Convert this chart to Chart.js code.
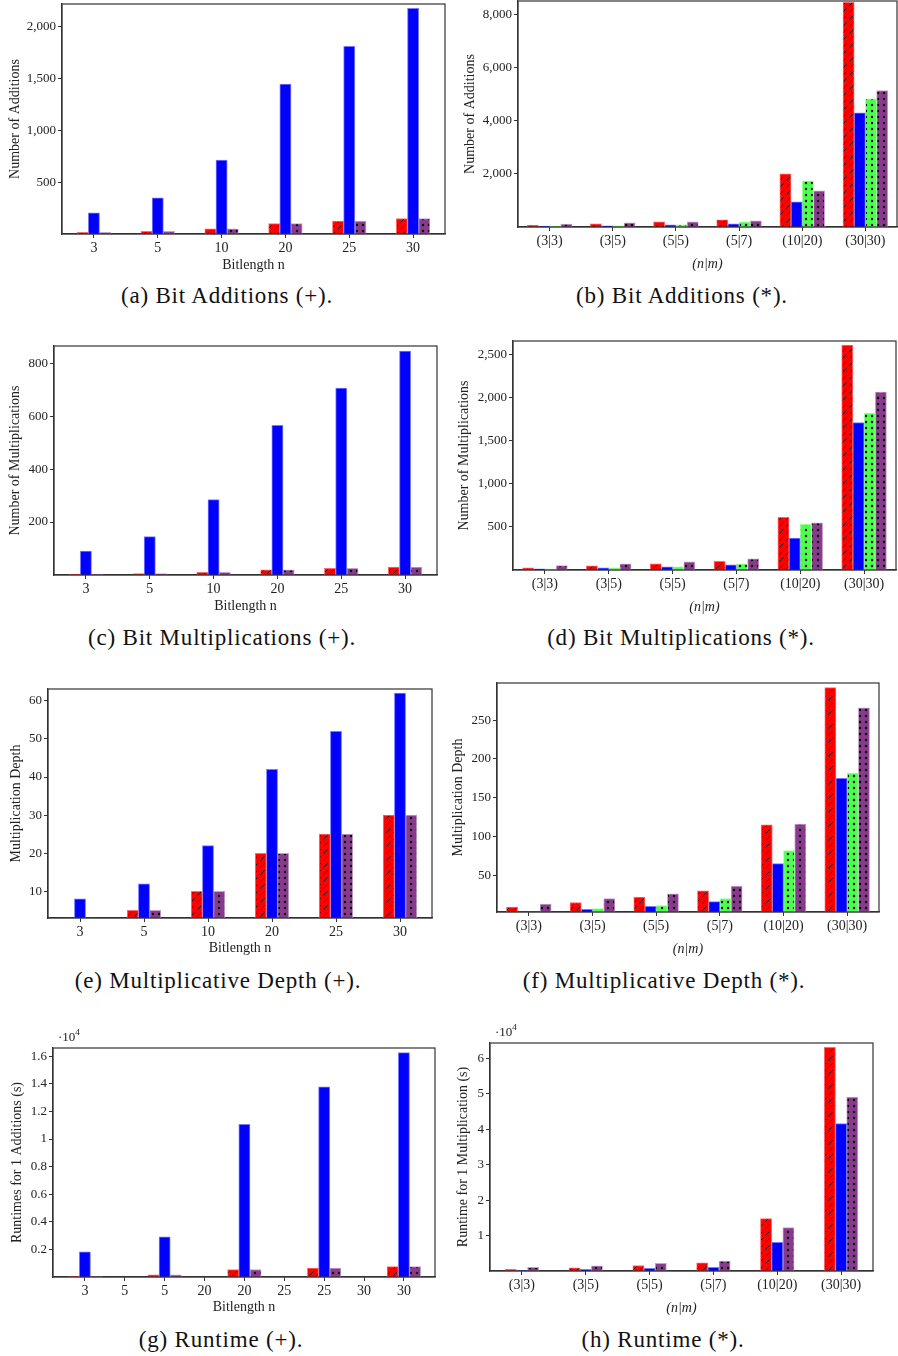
<!DOCTYPE html>
<html>
<head>
<meta charset="utf-8">
<script src="https://cdn.jsdelivr.net/npm/chart.js@4.4.1/dist/chart.umd.min.js"></script>
<style>
  body { margin: 0; background: #fff; width: 898px; height: 1356px; position: relative; overflow: hidden;
         font-family: "Liberation Serif", serif; color: #111; }
  .cap { position: absolute; transform: translate(-50%, -50%); font-size: 23px; white-space: nowrap; letter-spacing: 0.8px; }
</style>
</head>
<body>
<div class="cap" style="left:227px;top:296px">(a) Bit Additions (+).</div>
<div class="cap" style="left:682px;top:296px">(b) Bit Additions (*).</div>
<div class="cap" style="left:222px;top:638px">(c) Bit Multiplications (+).</div>
<div class="cap" style="left:681px;top:638px">(d) Bit Multiplications (*).</div>
<div class="cap" style="left:218px;top:981px">(e) Multiplicative Depth (+).</div>
<div class="cap" style="left:664px;top:981px">(f) Multiplicative Depth (*).</div>
<div class="cap" style="left:221px;top:1340px">(g) Runtime (+).</div>
<div class="cap" style="left:663px;top:1340px">(h) Runtime (*).</div>
<script>
// categories
const nLabels = ['3', '5', '10', '20', '25', '30'];
const nmLabels = ['(3|3)', '(3|5)', '(5|5)', '(5|7)', '(10|20)', '(30|30)'];
const rtAddLabels = ['3', '5', '20', '25', '30'];

// (a) bit additions (+)
const addPlusRed = [15, 25, 50, 100, 125, 150];
const addPlusBlue = [204, 349, 714, 1446, 1812, 2178];
const addPlusPurple = [15, 25, 50, 100, 125, 150];

// (b) bit additions (*)
const addStarRed = [70, 120, 195, 270, 2000, 8450];
const addStarBlue = [30, 45, 83, 120, 947, 4290];
const addStarGreen = [40, 45, 83, 195, 1736, 4816];
const addStarPurple = [108, 158, 195, 233, 1360, 5128];

// (c) bit multiplications (+)
const mulPlusRed = [3, 5, 10, 20, 25, 30];
const mulPlusBlue = [90, 145, 285, 565, 706, 846];
const mulPlusPurple = [3, 5, 10, 20, 25, 30];

// (d) bit multiplications (*)
const mulStarRed = [24, 48, 71, 102, 612, 2612];
const mulStarBlue = [13, 24, 36, 59, 372, 1711];
const mulStarGreen = [13, 24, 36, 71, 531, 1823];
const mulStarPurple = [51, 71, 94, 129, 547, 2067];

// (e) multiplicative depth (+)
const depthPlusRed = [3, 5, 10, 20, 25, 30];
const depthPlusBlue = [8, 12, 22, 42, 52, 62];
const depthPlusPurple = [3, 5, 10, 20, 25, 30];

// (f) multiplicative depth (*)
const depthStarRed = [9, 15, 22, 30, 115, 292];
const depthStarBlue = [3, 6, 10, 16, 65, 175];
const depthStarGreen = [3, 7, 11, 20, 82, 182];
const depthStarPurple = [13, 20, 26, 36, 116, 266];

// (g) runtime (+), seconds
const rtAddRed = [50, 150, 530, 650, 750];
const rtAddBlue = [1830, 2910, 11060, 13780, 16260];
const rtAddPurple = [50, 150, 530, 650, 750];

// (h) runtime (*), seconds
const rtMulRed = [440, 900, 1560, 2310, 14770, 63070];
const rtMulBlue = [160, 440, 720, 1000, 8120, 41550];
const rtMulPurple = [1000, 1470, 2130, 2780, 12240, 49040];

Chart.defaults.font.family = '"Liberation Serif", serif';
Chart.defaults.color = '#222';

function tile(color, size, draw) {
  const c = document.createElement('canvas');
  c.width = size; c.height = size;
  const g = c.getContext('2d');
  g.fillStyle = color; g.fillRect(0, 0, size, size);
  g.fillStyle = '#000'; g.strokeStyle = '#000';
  draw(g);
  return g.createPattern(c, 'repeat');
}
// short slashes per tile -> dashed north-east lines like the pgf pattern
const hatch = g => {
  g.lineWidth = 0.9;
  g.beginPath();
  g.moveTo(1.5, 5.5); g.lineTo(5.5, 1.5);
  g.stroke();
};
const dots = g => { g.beginPath(); g.arc(3, 3, 1.2, 0, Math.PI * 2); g.fill(); };

const STYLE = {
  red: { bg: tile('#ff0000', 7, hatch), border: '#ff6a6a' },
  blue: { bg: '#0000ff', border: '#7a7aff' },
  green: { bg: tile('#4dff4d', 6, dots), border: '#9dff9d' },
  purple: { bg: tile('#883a8c', 6, dots), border: '#c7a2c9' }
};

const framePlugin = {
  id: 'frame',
  afterDatasetsDraw(chart) {
    const { ctx, chartArea: a } = chart;
    ctx.save();
    ctx.strokeStyle = '#333';
    ctx.lineWidth = 1.2;
    ctx.strokeRect(a.left, a.top, a.right - a.left, a.bottom - a.top);
    ctx.restore();
  }
};

const exponentPlugin = {
  id: 'exponent',
  afterDraw(chart, args, opts) {
    if (!opts || !opts.power) return;
    const { ctx, chartArea: a } = chart;
    ctx.save();
    ctx.fillStyle = '#222';
    ctx.font = '13px "Liberation Serif"';
    ctx.fillText('·10', a.left + 5, a.top - 7);
    const w = ctx.measureText('·10').width;
    ctx.font = '9px "Liberation Serif"';
    ctx.fillText(opts.power, a.left + 5 + w, a.top - 13);
    ctx.restore();
  }
};

const plainFmt = v => v === 0 ? null : v.toLocaleString('en-US');
const e4Fmt = v => v === 0 ? null : String(Math.round(v / 1000) / 10);

const W = 449;
const FS = 13;   // y tick labels
const XS = 14;   // x tick labels
const TS = 14;   // axis titles

function panel(p) {
  const cx = p.col * W, ch = p.bottom - p.top;
  const cv = document.createElement('canvas');
  cv.width = W; cv.height = ch;
  cv.style.cssText = `position:absolute;left:${cx}px;top:${p.top}px;width:${W}px;height:${ch}px`;
  document.body.appendChild(cv);
  const [l, t, r, b] = p.box;
  const lh = TS * 1.2;

  const tickGrid = { display: true, drawOnChartArea: false, offset: false, tickLength: 4, color: '#333', lineWidth: 1 };
  const border = { display: true, color: '#333', width: 1.2 };

  const x = {
    offset: !p.linearX,
    grid: tickGrid,
    border: border,
    ticks: { padding: 2, maxRotation: 0, autoSkip: false, font: { size: XS } },
    title: { display: true, text: p.xTitle, padding: 0, font: { size: TS, style: p.xItalic ? 'italic' : 'normal' } },
    afterFit: s => { s.height = p.bottom - b; s.paddingLeft = 0; s.paddingRight = 0; }
  };
  if (p.linearX) {
    x.type = 'linear';
    x.min = p.xMin; x.max = p.xMax;
    x.ticks.stepSize = 0.5;
    x.ticks.includeBounds = false;
    x.ticks.callback = v => p.labels[Math.ceil(v - 1e-6)];
  }

  new Chart(cv, {
    type: 'bar',
    data: {
      labels: p.linearX ? undefined : p.labels,
      datasets: p.series.map(([vals, kind]) => ({
        data: p.linearX ? vals.map((v, i) => ({ x: i, y: v })) : vals,
        backgroundColor: STYLE[kind].bg,
        borderColor: STYLE[kind].border,
        borderWidth: 1,
        barThickness: 11.2
      }))
    },
    options: {
      responsive: false,
      animation: false,
      layout: { padding: { left: 0, top: t - p.top, right: cx + W - r, bottom: 0 } },
      plugins: { legend: { display: false }, tooltip: { enabled: false }, exponent: p.power ? { power: p.power } : false },
      scales: {
        x: x,
        y: {
          min: p.yMin, max: p.yMax,
          grid: tickGrid,
          border: border,
          ticks: { padding: 2, font: { size: FS }, callback: p.yFmt || plainFmt },
          afterBuildTicks: s => {
            const out = [];
            for (let v = Math.ceil(p.yMin / p.yStep) * p.yStep; v <= p.yMax + 1e-9; v += p.yStep) out.push({ value: v });
            s.ticks = out;
          },
          title: { display: true, text: p.yTitle, font: { size: TS }, padding: { top: p.yTitleX - cx - lh / 2, bottom: 0 } },
          afterFit: s => { s.width = l - cx; s.paddingTop = 0; s.paddingBottom = 0; }
        }
      }
    },
    plugins: [framePlugin, exponentPlugin]
  });
}

panel({ col: 0, top: 0, bottom: 274, box: [62, 4, 445, 234], yTitleX: 15,
  labels: nLabels, series: [[addPlusRed, 'red'], [addPlusBlue, 'blue'], [addPlusPurple, 'purple']],
  yMin: 0, yMax: 2220, yStep: 500, yTitle: 'Number of Additions', xTitle: 'Bitlength n' });

panel({ col: 1, top: 0, bottom: 273, box: [518, 1, 897, 227], yTitleX: 470.7,
  labels: nmLabels, series: [[addStarRed, 'red'], [addStarBlue, 'blue'], [addStarGreen, 'green'], [addStarPurple, 'purple']],
  yMin: 0, yMax: 8500, yStep: 2000, yTitle: 'Number of Additions', xTitle: '(n|m)', xItalic: true });

panel({ col: 0, top: 316, bottom: 615, box: [54, 346, 437, 575], yTitleX: 15,
  labels: nLabels, series: [[mulPlusRed, 'red'], [mulPlusBlue, 'blue'], [mulPlusPurple, 'purple']],
  yMin: 0, yMax: 865, yStep: 200, yTitle: 'Number of Multiplications', xTitle: 'Bitlength n' });

panel({ col: 1, top: 311, bottom: 616, box: [513, 341, 896, 570], yTitleX: 464,
  labels: nmLabels, series: [[mulStarRed, 'red'], [mulStarBlue, 'blue'], [mulStarGreen, 'green'], [mulStarPurple, 'purple']],
  yMin: 0, yMax: 2660, yStep: 500, yTitle: 'Number of Multiplications', xTitle: '(n|m)', xItalic: true });

panel({ col: 0, top: 659, bottom: 957, box: [48, 689, 432, 918], yTitleX: 16,
  labels: nLabels, series: [[depthPlusRed, 'red'], [depthPlusBlue, 'blue'], [depthPlusPurple, 'purple']],
  yMin: 3, yMax: 63.1, yStep: 10, yTitle: 'Multiplication Depth', xTitle: 'Bitlength n' });

panel({ col: 1, top: 653, bottom: 958, box: [497, 683, 879, 912], yTitleX: 458,
  labels: nmLabels, series: [[depthStarRed, 'red'], [depthStarBlue, 'blue'], [depthStarGreen, 'green'], [depthStarPurple, 'purple']],
  yMin: 2.7, yMax: 298, yStep: 50, yTitle: 'Multiplication Depth', xTitle: '(n|m)', xItalic: true });

panel({ col: 0, top: 1018, bottom: 1316, box: [53, 1048, 435, 1277], yTitleX: 17,
  labels: rtAddLabels, linearX: true, xMin: -0.4, xMax: 4.39,
  series: [[rtAddRed, 'red'], [rtAddBlue, 'blue'], [rtAddPurple, 'purple']],
  yMin: 0, yMax: 16600, yStep: 2000, yFmt: e4Fmt, power: '4',
  yTitle: 'Runtimes for 1 Additions (s)', xTitle: 'Bitlength n' });

panel({ col: 1, top: 1013, bottom: 1317, box: [490, 1043, 873, 1271], yTitleX: 463,
  labels: nmLabels, series: [[rtMulRed, 'red'], [rtMulBlue, 'blue'], [rtMulPurple, 'purple']],
  yMin: 0, yMax: 64300, yStep: 10000, yFmt: e4Fmt, power: '4',
  yTitle: 'Runtime for 1 Multiplication (s)', xTitle: '(n|m)', xItalic: true });
</script>
</body>
</html>
